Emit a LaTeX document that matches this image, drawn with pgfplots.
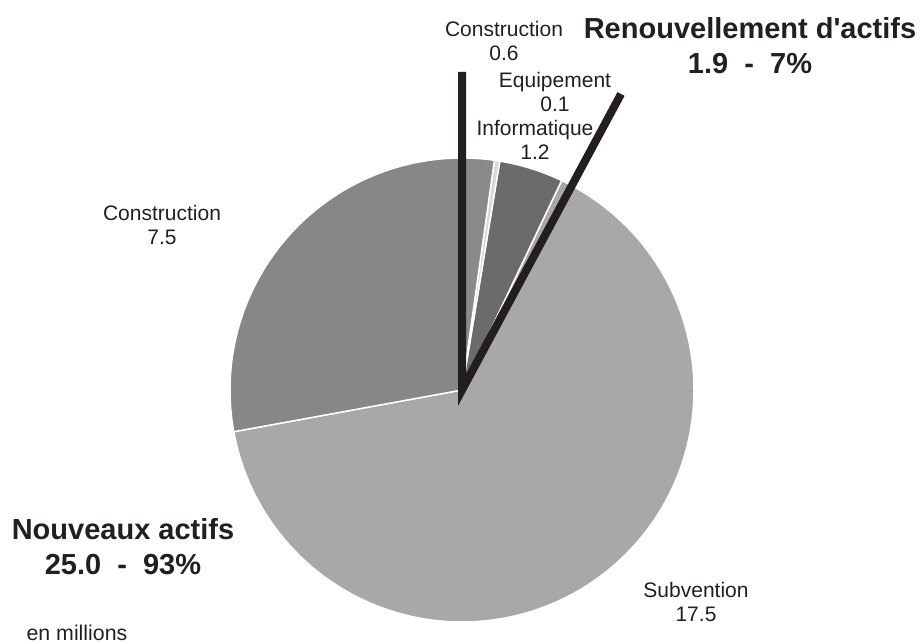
\documentclass[border=0pt]{standalone}
\usepackage{pgfplots}
\pgfplotsset{compat=1.18}
\usepackage{fontspec}
\setmainfont{Liberation Sans}
\definecolor{txt}{HTML}{231F20}
\definecolor{cConsA}{HTML}{8A8A8A}
\definecolor{cEquip}{HTML}{D9D9D9}
\definecolor{cInfo}{HTML}{6B6B6B}
\definecolor{cSub}{HTML}{A8A8AA}
\definecolor{cConsB}{HTML}{878787}
\begin{document}
\begin{tikzpicture}
% values (millions), clockwise from the top
\def\vConsA{0.6}
\def\vEquip{0.1}
\def\vInfo{1.2}
\def\vSub{17.5}
\def\vConsB{7.5}
\pgfmathsetmacro{\tot}{\vConsA+\vEquip+\vInfo+\vSub+\vConsB}
\pgfmathsetmacro{\aA}{90}
\pgfmathsetmacro{\aB}{\aA-\vConsA/\tot*360}
\pgfmathsetmacro{\aC}{\aB-\vEquip/\tot*360}
\pgfmathsetmacro{\aD}{\aC-\vInfo/\tot*360}
\pgfmathsetmacro{\aE}{\aD-\vSub/\tot*360}
\pgfmathsetmacro{\aF}{\aE-\vConsB/\tot*360}
\begin{axis}[name=ax, hide axis, scale only axis, width=693pt, height=482.25pt,
  xmin=0, xmax=924, ymin=0, ymax=643, clip=false]
\pgfplotsset{slice/.style={draw=white, line width=1.1pt, line join=round, samples=120, variable=\t}}
\addplot[slice, fill=cSub, domain=\aE:\aD] ({462+232*cos(\t)},{253+232*sin(\t)}) -- (axis cs:462,253) -- cycle;
\addplot[slice, fill=cConsB, domain=\aF:\aE] ({462+232*cos(\t)},{253+232*sin(\t)}) -- (axis cs:462,253) -- cycle;
\addplot[slice, fill=cInfo, domain=\aD:\aC] ({462+232*cos(\t)},{253+232*sin(\t)}) -- (axis cs:462,253) -- cycle;
\addplot[slice, fill=cEquip, domain=\aC:\aB] ({462+232*cos(\t)},{253+232*sin(\t)}) -- (axis cs:462,253) -- cycle;
\addplot[slice, fill=cConsA, domain=\aB:\aA] ({462+232*cos(\t)},{253+232*sin(\t)}) -- (axis cs:462,253) -- cycle;
% group separators
\addplot[txt, line width=6pt, line join=miter, no markers] coordinates {(462,571) (462,253) (621,549)};
% labels
\node[txt, align=center, font=\fontsize{15.75}{18}\selectfont] at (axis cs:162,418) {Construction\\7.5};
\node[txt, align=center, font=\fontsize{15.75}{18}\selectfont] at (axis cs:696,41) {Subvention\\17.5};
\node[txt, align=center, font=\fontsize{15.75}{18}\selectfont] at (axis cs:504,602) {Construction\\0.6};
\node[txt, align=center, font=\fontsize{15.75}{18}\selectfont] at (axis cs:555,551) {Equipement\\0.1};
\node[txt, align=center, font=\fontsize{15.75}{18}\selectfont] at (axis cs:535,503) {Informatique\\1.2};
\node[txt, align=center, font=\fontsize{21.75}{26.25}\selectfont\bfseries] at (axis cs:750,597) {Renouvellement d\textquotesingle actifs\\1.9\ \ -\ \ 7\%};
\node[txt, align=center, font=\fontsize{21.75}{26.25}\selectfont\bfseries] at (axis cs:123,96) {Nouveaux actifs\\25.0\ \ -\ \ 93\%};
\node[txt, font=\fontsize{16}{19}\selectfont] at (axis cs:77,10) {en millions};
\end{axis}
\pgfresetboundingbox
\path[use as bounding box] (ax.south west) rectangle (ax.north east);
\end{tikzpicture}
\end{document}
